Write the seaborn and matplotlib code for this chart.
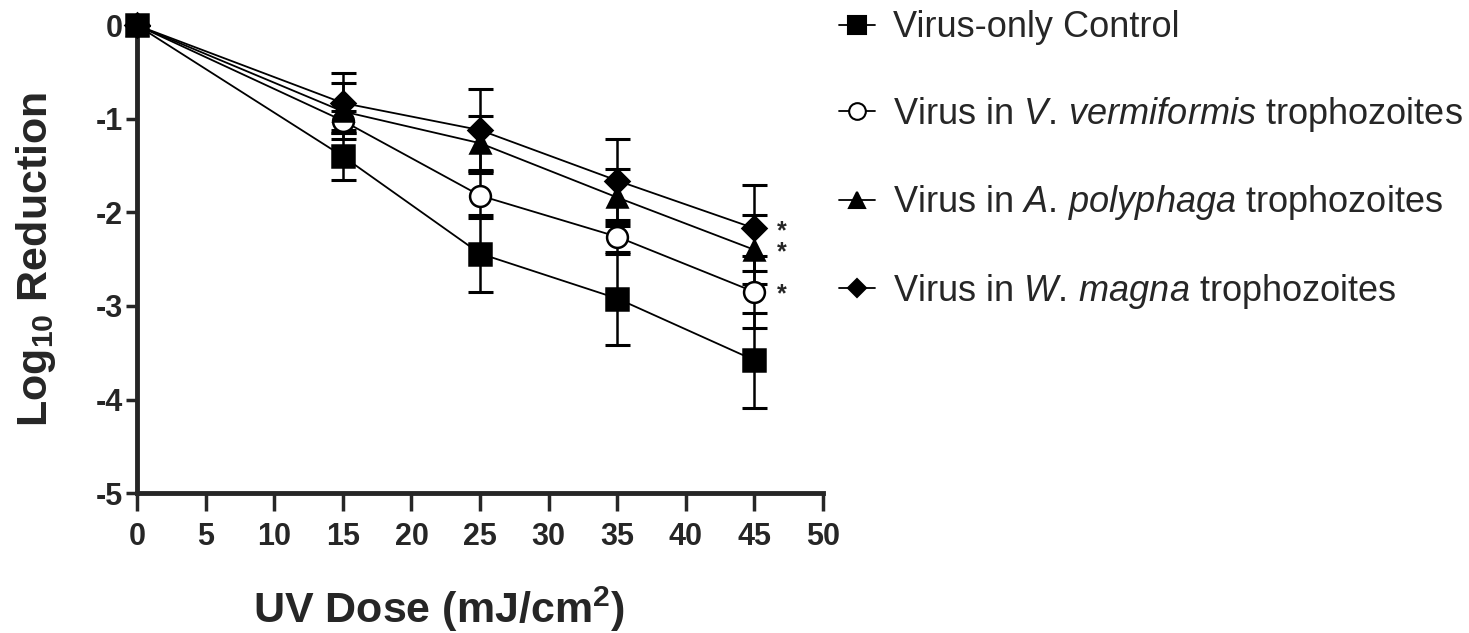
import numpy as np
import pandas as pd
import seaborn as sns
import matplotlib
matplotlib.use("Agg")
from matplotlib import pyplot as plt

# data
dose = [0, 15, 25, 35, 45]
groups = ["Virus-only Control",
          r"Virus in $\it{V.\,vermiformis}$ trophozoites",
          r"Virus in $\it{A.\,polyphaga}$ trophozoites",
          r"Virus in $\it{W.\,magna}$ trophozoites"]
control_mean = [0, -1.40, -2.44, -2.92, -3.58]
control_sd = [0, 0.25, 0.41, 0.50, 0.51]
verm_mean = [0, -1.02, -1.82, -2.26, -2.85]
verm_sd = [0, 0.10, 0.24, 0.18, 0.38]
poly_mean = [0, -0.92, -1.26, -1.84, -2.40]
poly_sd = [0, 0.30, 0.29, 0.30, 0.37]
magna_mean = [0, -0.83, -1.12, -1.66, -2.17]
magna_sd = [0, 0.32, 0.44, 0.45, 0.46]
star_groups = [1, 2, 3]

means = [control_mean, verm_mean, poly_mean, magna_mean]
sds = [control_sd, verm_sd, poly_sd, magna_sd]

df = pd.DataFrame({
    "dose": dose * 4,
    "logred": sum(means, []),
    "group": sum([[g] * len(dose) for g in groups], []),
})

sns.set_style("ticks")
plt.rcParams['font.family'] = ['Liberation Sans', 'DejaVu Sans']
plt.rcParams['axes.unicode_minus'] = False
plt.rcParams['mathtext.fontset'] = 'custom'
plt.rcParams['mathtext.rm'] = 'Liberation Sans'
plt.rcParams['mathtext.it'] = 'Liberation Sans:italic'
plt.rcParams['mathtext.bf'] = 'Liberation Sans:bold'

fig = plt.figure(figsize=(14.69, 6.33), dpi=100)
ax = fig.add_axes([0.0933, 0.221, 0.467, 0.739])

markers = ['s', 'o', '^', 'D']
faces = ['black', 'white', 'black', 'black']
sizes = [16, 15, 15, 12]

sns.lineplot(data=df, x="dose", y="logred", hue="group", style="group",
             palette=['black'] * 4, markers=markers, dashes=False,
             linewidth=1.3, ax=ax, legend=False, zorder=3)

# error bars (mean +/- SD)
for i in range(4):
    ax.errorbar(dose, means[i], yerr=sds[i], fmt='none', ecolor='black',
                elinewidth=1.8, capsize=9, capthick=2.2, zorder=2)

# restyle seaborn markers
for i, line in enumerate(ax.lines[:4]):
    line.set_marker(markers[i])
    line.set_markersize(sizes[i])
    line.set_markerfacecolor(faces[i])
    line.set_markeredgecolor('black')
    line.set_markeredgewidth(1.8)
    line.set_clip_on(False)
    line.set_zorder(4 + i)

for g in star_groups:
    ax.text(dose[-1] + 2.0, means[g][-1] - 0.03, "*", fontsize=18,
            ha='center', va='center', fontweight='bold')

ax.set_xlim(0, 50)
ax.set_ylim(-5, 0)
ax.set_xticks(range(0, 51, 5))
ax.set_yticks(range(-5, 1))
sns.despine(ax=ax)
for s in ['left', 'bottom']:
    ax.spines[s].set_linewidth(3.5)
ax.tick_params(axis='both', width=2.5, labelsize=22, direction='out')
ax.tick_params(axis='x', length=13, pad=8)
ax.tick_params(axis='y', length=8, pad=2)
for lab in ax.get_xticklabels() + ax.get_yticklabels():
    lab.set_fontweight('bold')

ax.set_xlabel(r"UV Dose (mJ/cm$^\mathbf{2}$)", fontsize=31, fontweight='bold')
ax.xaxis.set_label_coords(0.44, -0.195)
ax.set_ylabel(r"Log$_\mathbf{10}$ Reduction", fontsize=31, fontweight='bold')
ax.yaxis.set_label_coords(-0.115, 0.5)

# legend
handles = []
for i in range(4):
    h, = ax.plot([], [], color='black', linewidth=1.3, marker=markers[i],
                 markersize=sizes[i] * 0.8, markerfacecolor=faces[i],
                 markeredgecolor='black', markeredgewidth=1.5)
    handles.append(h)
leg = fig.legend(handles, groups, loc='upper left', bbox_to_anchor=(0.549, 1.035),
                 frameon=False, fontsize=26, handlelength=1.0, handletextpad=0.5,
                 labelspacing=1.37)

fig.savefig("out.png", dpi=100)
